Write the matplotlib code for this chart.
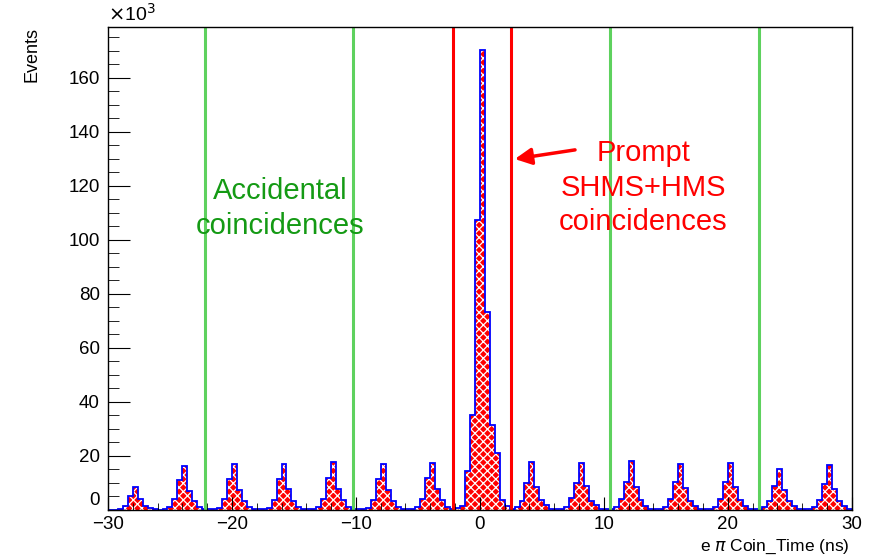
import numpy as np
import matplotlib
matplotlib.use('Agg')
import matplotlib.pyplot as plt
from matplotlib.ticker import MultipleLocator, FuncFormatter

plt.rcParams['font.family'] = ['Liberation Sans', 'DejaVu Sans']
plt.rcParams['hatch.linewidth'] = 0.9

# histogram binning (ns)
x_lo, x_hi, bin_w = -30.0, 30.0, 0.4

# bunch peaks, 11 bins each (offsets -5..+5 around the bin starting at the centre), counts in 10^3
peak_centers = [-28, -24, -20, -16, -12, -8, -4, 0, 4, 8, 12, 16, 20, 24, 28]
peak_counts = [
    [0.0, 0.1, 0.5, 1.3, 5.0, 8.4, 4.0, 1.6, 0.6, 0.2, 0.1],
    [0.0, 0.3, 1.0, 3.9, 11.2, 16.1, 6.9, 3.4, 1.2, 0.3, 0.1],
    [0.1, 0.3, 0.8, 3.9, 11.3, 17.2, 7.5, 3.5, 1.1, 0.3, 0.1],
    [0.1, 0.3, 0.9, 3.7, 11.5, 17.0, 7.6, 3.4, 1.2, 0.3, 0.1],
    [0.1, 0.3, 1.0, 4.0, 12.0, 17.7, 7.8, 3.6, 1.2, 0.4, 0.1],
    [0.1, 0.3, 0.9, 3.8, 11.4, 17.0, 7.4, 3.5, 1.1, 0.3, 0.1],
    [0.1, 0.3, 1.0, 4.0, 11.8, 17.4, 7.6, 3.6, 1.2, 0.4, 0.1],
    [0.5, 1.3, 14.5, 35.1, 107.2, 170.2, 73.4, 31.4, 21.0, 3.8, 1.3],
    [0.1, 0.4, 1.2, 3.4, 9.9, 17.7, 8.4, 3.7, 1.8, 0.5, 0.1],
    [0.1, 0.3, 1.1, 4.4, 9.9, 17.4, 8.8, 3.4, 1.7, 0.5, 0.1],
    [0.1, 0.3, 1.2, 4.2, 10.5, 18.0, 8.6, 3.6, 1.6, 0.5, 0.1],
    [0.1, 0.3, 1.0, 4.0, 10.2, 17.2, 8.2, 3.5, 1.5, 0.4, 0.1],
    [0.1, 0.3, 1.1, 4.1, 10.4, 17.5, 8.5, 3.6, 1.6, 0.5, 0.1],
    [0.1, 0.3, 1.0, 3.5, 9.0, 15.2, 7.4, 3.2, 1.4, 0.4, 0.1],
    [0.1, 0.3, 1.0, 3.8, 9.8, 16.6, 7.8, 3.4, 1.5, 0.5, 0.1],
]

# cut windows (ns)
accidental_cuts = [-22.2, -10.2, 10.5, 22.55]
prompt_cuts = [-2.15, 2.5]

nbins = int(round((x_hi - x_lo) / bin_w))
edges = np.linspace(x_lo, x_hi, nbins + 1)
counts = np.zeros(nbins)
for c, vals in zip(peak_centers, peak_counts):
    for o, v in zip(range(-5, 6), vals):
        i = int(round((c + o * bin_w - x_lo) / bin_w))
        if 0 <= i < nbins:
            counts[i] += v

fig = plt.figure(figsize=(8.77, 5.57), dpi=100)
ax = fig.add_axes([108/877, 1-510/557, (851.7-108)/877, (510-27.3)/557])

ax.stairs(counts, edges, fill=True, facecolor='red', edgecolor='white',
          hatch='xxxx', linewidth=0)
ax.stairs(counts, edges, color='blue', lw=1.3)

for xc in accidental_cuts:
    ax.axvline(xc, color='#5ed15e', lw=2.2)
for xc in prompt_cuts:
    ax.axvline(xc, color='red', lw=2.2)

ax.set_xlim(x_lo, x_hi)
ax.set_ylim(0, 178.6)
ax.xaxis.set_major_locator(MultipleLocator(10))
ax.xaxis.set_minor_locator(MultipleLocator(2))
ax.yaxis.set_major_locator(MultipleLocator(20))
ax.yaxis.set_minor_locator(MultipleLocator(5))
# the "0" label is drawn separately, a bit raised, so it clears "-30"
ax.yaxis.set_major_formatter(FuncFormatter(lambda v, p: '' if v == 0 else '%d' % v))
ax.tick_params(axis='both', which='both', direction='in', top=False, right=False,
               labelsize=13.5)
ax.tick_params(axis='y', which='major', length=15.5, pad=6)
ax.tick_params(axis='y', which='minor', length=8)
ax.tick_params(axis='x', which='major', length=9.5, pad=4)
ax.tick_params(axis='x', which='minor', length=4.7)
for s in ax.spines.values():
    s.set_linewidth(1.0)
ax.text(-8/743.7, 0.002, '0', transform=ax.transAxes, ha='right', va='bottom', fontsize=13.5)

fig.text(849/877, 1/557, r'e $\pi$ Coin_Time (ns)', ha='right', va='bottom', fontsize=12.5)
fig.text(32/877, 1-27/557, 'Events', rotation=90, ha='center', va='top', fontsize=13)
ax.text(0.0, 1.005, r'$\times$10$^{3}$', transform=ax.transAxes, ha='left', va='bottom', fontsize=14)

ax.text(-16.1, 111.6, 'Accidental\ncoincidences', color='#149a14', ha='center', va='center',
        fontsize=21, linespacing=1.3)
ax.text(13.2, 119.2, 'Prompt\nSHMS+HMS\ncoincidences', color='red', ha='center', va='center',
        fontsize=21, linespacing=1.3)
ax.annotate('', xy=(2.6, 129.7), xytext=(7.9, 133.4),
            arrowprops=dict(arrowstyle='-|>', color='red', lw=2.5, mutation_scale=25))

fig.savefig('out.png', dpi=100)
